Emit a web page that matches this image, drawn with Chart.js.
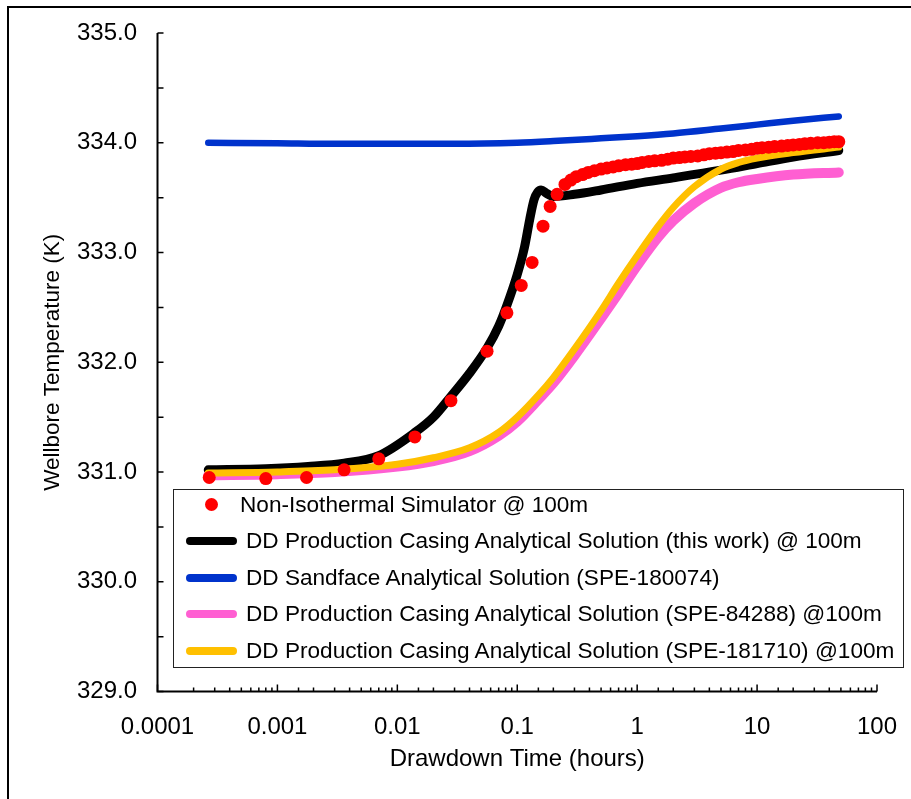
<!DOCTYPE html>
<html lang="en">
<head>
<meta charset="utf-8" />
<title>Wellbore Temperature vs Drawdown Time</title>
<script src="https://cdn.jsdelivr.net/npm/chart.js"></script>
<style>
  body { margin: 0; background: #fff; }
  #wrap { position: relative; width: 911px; height: 799px; }
  #legendBox {
    position: absolute; left: 173px; top: 489px; width: 731px; height: 179px;
    box-sizing: border-box; border: 1.5px solid #222; background: #fff;
    font-family: 'Liberation Sans', Arial, sans-serif;
    font-size: 22.6px; color: #000;
  }
  .item { position: absolute; left: 0; right: 0; height: 36px; }
  .item .txt { position: absolute; top: 0; line-height: 36px; white-space: nowrap; }
  .item .mk { position: absolute; }
</style>
</head>
<body>
<div id="wrap">
  <canvas id="tempChart" width="911" height="799"></canvas>
  <div id="legendBox"></div>
</div>
<script>
// Non-isothermal simulator (dots)
const simTime = [0.00027, 0.0008, 0.00175, 0.0036, 0.007, 0.014, 0.028, 0.056, 0.082, 0.108, 0.133, 0.164, 0.188, 0.215,
  0.25, 0.28, 0.31, 0.35, 0.39, 0.44, 0.5, 0.56, 0.63, 0.7, 0.8, 0.9, 1.0, 1.1, 1.25, 1.4, 1.6, 1.8, 2.0, 2.25, 2.5, 2.8,
  3.2, 3.6, 4.0, 4.5, 5.0, 5.6, 6.3, 7.0, 8.0, 9.0, 10, 11, 12.5, 14, 16, 18, 20, 22.5, 25, 28, 32, 36, 40, 44, 48];
const simTemp = [330.95, 330.94, 330.95, 331.02, 331.12, 331.32, 331.65, 332.10, 332.45, 332.70, 332.91, 333.24, 333.42, 333.53,
  333.62, 333.66, 333.69, 333.71, 333.73, 333.745, 333.76, 333.77, 333.78, 333.79, 333.80, 333.805, 333.81, 333.82, 333.83, 333.835, 333.84, 333.85, 333.86, 333.865, 333.87, 333.875,
  333.88, 333.89, 333.90, 333.905, 333.91, 333.915, 333.92, 333.93, 333.935, 333.94, 333.95, 333.955, 333.96, 333.965, 333.97, 333.975, 333.98, 333.985, 333.99, 333.995, 334.00, 334.00, 334.005, 334.01, 334.01];

// DD production casing analytical solution (this work)
const thisWorkTime = [0.000265, 0.0008, 0.0018, 0.0036, 0.007, 0.014, 0.02, 0.028, 0.04, 0.056, 0.07, 0.082, 0.1, 0.115, 0.127, 0.138, 0.148, 0.158, 0.175, 0.2, 0.3, 0.5, 1, 2, 5, 10, 20, 48];
const thisWorkTemp = [331.02, 331.03, 331.05, 331.08, 331.15, 331.36, 331.50, 331.69, 331.90, 332.13, 332.33, 332.52, 332.80, 333.05, 333.30, 333.48, 333.55, 333.57, 333.54, 333.51, 333.53, 333.57, 333.63, 333.68, 333.75, 333.81, 333.87, 333.93];

// DD sandface analytical solution (SPE-180074)
const sandfaceTime = [0.000265, 0.001, 0.003, 0.01, 0.03, 0.1, 0.2, 0.5, 1, 2, 5, 10, 20, 48];
const sandfaceTemp = [334.00, 333.995, 333.99, 333.99, 333.99, 334.00, 334.015, 334.04, 334.06, 334.085, 334.13, 334.165, 334.20, 334.24];

// SPE-84288 and SPE-181710 solutions share the same time samples
const casingTime = [0.000265, 0.001, 0.003, 0.01, 0.02, 0.04, 0.07, 0.1, 0.15, 0.2, 0.3, 0.5, 0.7, 1, 1.5, 2, 3, 5, 7, 10, 20, 48];
const spe84288Temp = [330.97, 330.98, 331.00, 331.05, 331.10, 331.19, 331.33, 331.46, 331.66, 331.81, 332.06, 332.40, 332.63, 332.88, 333.14, 333.29, 333.45, 333.59, 333.64, 333.67, 333.71, 333.73];
const spe181710Temp = [330.99, 331.00, 331.02, 331.07, 331.13, 331.22, 331.36, 331.50, 331.70, 331.86, 332.12, 332.47, 332.72, 332.97, 333.24, 333.41, 333.60, 333.76, 333.82, 333.86, 333.91, 333.96];

const yTickStep = 0.5;

function toPoints(xs, ys) {
  return xs.map((t, i) => ({ x: t, y: ys[i] }));
}

const fontFamily = "'Liberation Sans', Arial, sans-serif";
Chart.defaults.font.family = fontFamily;
Chart.defaults.color = '#000';

const axesPlugin = {
  id: 'axesPlugin',
  beforeDraw(chart) {
    const ctx = chart.ctx;
    ctx.save();
    ctx.fillStyle = '#fff';
    ctx.fillRect(0, 0, chart.width, chart.height);
    ctx.strokeStyle = '#000';
    ctx.lineWidth = 2;
    ctx.beginPath();
    ctx.moveTo(8, chart.height);
    ctx.lineTo(8, 7);
    ctx.lineTo(chart.width, 7);
    ctx.stroke();
    ctx.restore();
  },
  afterDatasetsDraw(chart) {
    const { ctx, chartArea: a, scales: { x, y } } = chart;
    ctx.save();
    ctx.strokeStyle = '#000';
    ctx.lineWidth = 2;
    ctx.beginPath();
    ctx.moveTo(a.left, a.top);
    ctx.lineTo(a.left, a.bottom);
    ctx.lineTo(a.right, a.bottom);
    ctx.stroke();
    ctx.lineWidth = 1.5;
    ctx.beginPath();
    x.ticks.forEach(t => {
      const px = x.getPixelForValue(t.value);
      const len = t.label ? 7 : 4;
      ctx.moveTo(px, a.bottom);
      ctx.lineTo(px, a.bottom - len);
    });
    y.ticks.forEach(t => {
      const py = y.getPixelForValue(t.value);
      ctx.moveTo(a.left, py);
      ctx.lineTo(a.left + 6, py);
    });
    ctx.stroke();
    ctx.restore();
  }
};

const lineStyle = { showLine: true, pointRadius: 0, fill: false, borderCapStyle: 'round', borderJoinStyle: 'round', cubicInterpolationMode: 'monotone' };

const chart = new Chart(document.getElementById('tempChart'), {
  type: 'scatter',
  data: {
    datasets: [
      { label: 'Non-Isothermal Simulator @ 100m', data: toPoints(simTime, simTemp), showLine: false,
        pointRadius: 6.5, pointBackgroundColor: '#ff0000', pointBorderWidth: 0, backgroundColor: '#ff0000', order: 0 },
      Object.assign({ label: 'DD Production Casing Analytical Solution (this work) @ 100m', data: toPoints(thisWorkTime, thisWorkTemp),
        borderColor: '#000000', borderWidth: 9, order: 3 }, lineStyle),
      Object.assign({ label: 'DD Sandface Analytical Solution (SPE-180074)', data: toPoints(sandfaceTime, sandfaceTemp),
        borderColor: '#0033cc', borderWidth: 6.5, order: 4 }, lineStyle),
      Object.assign({ label: 'DD Production Casing Analytical Solution (SPE-84288) @100m', data: toPoints(casingTime, spe84288Temp),
        borderColor: '#ff5fd2', borderWidth: 10, order: 2 }, lineStyle),
      Object.assign({ label: 'DD Production Casing Analytical Solution (SPE-181710) @100m', data: toPoints(casingTime, spe181710Temp),
        borderColor: '#ffc000', borderWidth: 7, order: 1 }, lineStyle)
    ]
  },
  options: {
    responsive: false,
    animation: false,
    layout: { padding: { top: 33, right: 34, left: 0, bottom: 0 } },
    plugins: { legend: { display: false }, tooltip: { enabled: false } },
    scales: {
      x: {
        type: 'logarithmic', min: 0.0001, max: 100,
        grid: { display: false, drawTicks: false },
        border: { display: false },
        ticks: {
          autoSkip: false, maxRotation: 0, padding: 21, font: { size: 24 },
          callback: function (v) {
            const l = Math.log10(v);
            return Math.abs(l - Math.round(l)) < 1e-6 ? String(Number(v.toPrecision(1))) : '';
          }
        },
        title: { display: true, text: 'Drawdown Time (hours)', font: { size: 24 }, padding: { top: 0, bottom: 25 } },
        afterFit(s) { s.height = 107.5; s.paddingLeft = 0; s.paddingRight = 0; }
      },
      y: {
        min: 329, max: 335,
        grid: { display: false, drawTicks: false },
        border: { display: false },
        ticks: {
          stepSize: yTickStep, autoSkip: false, padding: 20.5, font: { size: 24 },
          callback: v => Number.isInteger(v) ? v.toFixed(1) : ''
        },
        title: { display: true, text: 'Wellbore Temperature (K)', font: { size: 22.5 }, padding: { top: 39.5, bottom: 0 } },
        afterFit(s) { s.width = 157.5; s.paddingTop = 0; s.paddingBottom = 0; }
      }
    }
  },
  plugins: [axesPlugin]
});

// legend box built from the datasets
const box = document.getElementById('legendBox');
chart.data.datasets.forEach((ds, i) => {
  const item = document.createElement('div');
  item.className = 'item';
  item.style.top = (16 + i * 36.5 - 18 - 1.5) + 'px';
  const mk = document.createElement('div');
  mk.className = 'mk';
  const txt = document.createElement('span');
  txt.className = 'txt';
  txt.textContent = ds.label;
  if (ds.showLine === false) {
    Object.assign(mk.style, { left: '31px', top: '11.5px', width: '13px', height: '13px', borderRadius: '50%', background: ds.pointBackgroundColor });
    txt.style.left = '66px';
  } else {
    Object.assign(mk.style, { left: '12px', top: '14px', width: '51px', height: '8px', borderRadius: '4px', background: ds.borderColor });
    txt.style.left = '72px';
  }
  item.appendChild(mk);
  item.appendChild(txt);
  box.appendChild(item);
});
</script>
</body>
</html>
